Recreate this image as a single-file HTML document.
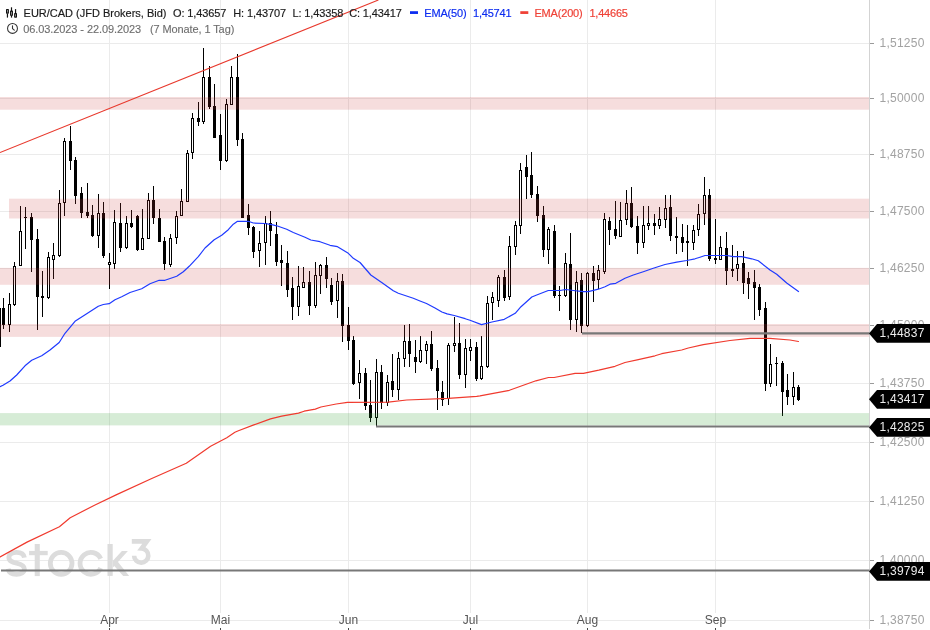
<!DOCTYPE html>
<html><head><meta charset="utf-8"><title>EUR/CAD</title>
<style>html,body{margin:0;padding:0;background:#fff;}body{width:930px;height:630px;overflow:hidden;font-family:"Liberation Sans",sans-serif;}svg{display:block;will-change:transform;}text{font-family:"Liberation Sans",sans-serif;}</style>
</head><body>
<svg width="930" height="630" viewBox="0 0 930 630">
<rect x="0" y="0" width="930" height="630" fill="#ffffff"/>
<g shape-rendering="crispEdges">
<rect x="0" y="43" width="869" height="1" fill="#ebebeb"/>
<rect x="0" y="98" width="869" height="1" fill="#ebebeb"/>
<rect x="0" y="154" width="869" height="1" fill="#ebebeb"/>
<rect x="0" y="211" width="869" height="1" fill="#ebebeb"/>
<rect x="0" y="268" width="869" height="1" fill="#ebebeb"/>
<rect x="0" y="325" width="869" height="1" fill="#ebebeb"/>
<rect x="0" y="383" width="869" height="1" fill="#ebebeb"/>
<rect x="0" y="442" width="869" height="1" fill="#ebebeb"/>
<rect x="0" y="501" width="869" height="1" fill="#ebebeb"/>
<rect x="0" y="560" width="869" height="1" fill="#ebebeb"/>
<rect x="0" y="620" width="869" height="1" fill="#ebebeb"/>
<rect x="109" y="0" width="1" height="613" fill="#ebebeb"/>
<rect x="220" y="0" width="1" height="613" fill="#ebebeb"/>
<rect x="348" y="0" width="1" height="613" fill="#ebebeb"/>
<rect x="470" y="0" width="1" height="613" fill="#ebebeb"/>
<rect x="587" y="0" width="1" height="613" fill="#ebebeb"/>
<rect x="715" y="0" width="1" height="613" fill="#ebebeb"/>
</g>
<g fill="none" stroke="#dcdcdc" stroke-width="4.8">
<path d="M24.4 557.6 C23.8 554 20.8 552.4 16.5 552.4 C11.8 552.4 8.9 554.3 8.9 557.5 C8.9 561 12 562.1 16.6 563.2 C21.6 564.4 24.4 565.8 24.4 569.1 C24.4 572.6 21 574.3 16.5 574.3 C11.8 574.3 8.8 572.5 8.1 568.8"/>
<ellipse cx="61.15" cy="563.35" rx="10.85" ry="10.95"/>
<path d="M100.7 558.7 A10.85 10.95 0 1 0 100.7 568"/>
<path d="M131.8 541.4 H146.9 L141.6 548.5 A7.1 7.1 0 1 1 134.1 555.7" stroke-width="4.6" stroke-linejoin="miter" stroke-miterlimit="10"/>
</g>
<g fill="#dcdcdc">
<rect x="34.7" y="544" width="5.1" height="32.1"/><rect x="29.1" y="550.9" width="18.6" height="4.3"/>
<rect x="107.5" y="544" width="5.2" height="31.9"/>
<polygon points="112.7,560.9 121.9,550.9 127.9,550.9 112.7,567.8"/>
<polygon points="113.6,565.2 117.4,561.2 129.2,575.9 123.2,575.9"/>
</g>
<g shape-rendering="crispEdges" fill="#000">
<rect x="0" y="308" width="1" height="39"/>
<rect x="3" y="298" width="1" height="31"/>
<rect x="2" y="308" width="3" height="17"/>
<rect x="9" y="293" width="1" height="39"/>
<rect x="8" y="304" width="3" height="21"/>
<rect x="9" y="305" width="1" height="19" fill="#fff"/>
<rect x="14" y="262" width="1" height="44"/>
<rect x="13" y="266" width="3" height="39"/>
<rect x="14" y="267" width="1" height="37" fill="#fff"/>
<rect x="20" y="206" width="1" height="60"/>
<rect x="19" y="231" width="3" height="35"/>
<rect x="20" y="232" width="1" height="33" fill="#fff"/>
<rect x="25" y="207" width="1" height="42"/>
<rect x="24" y="217" width="3" height="1"/>
<rect x="31" y="213" width="1" height="59"/>
<rect x="30" y="217" width="3" height="23"/>
<rect x="37" y="229" width="1" height="101"/>
<rect x="36" y="239" width="3" height="58"/>
<rect x="42" y="271" width="1" height="46"/>
<rect x="41" y="296" width="3" height="2"/>
<rect x="48" y="252" width="1" height="47"/>
<rect x="47" y="257" width="3" height="41"/>
<rect x="48" y="258" width="1" height="39" fill="#fff"/>
<rect x="53" y="243" width="1" height="36"/>
<rect x="52" y="255" width="3" height="5"/>
<rect x="53" y="256" width="1" height="3" fill="#fff"/>
<rect x="59" y="190" width="1" height="67"/>
<rect x="58" y="203" width="3" height="53"/>
<rect x="59" y="204" width="1" height="51" fill="#fff"/>
<rect x="64" y="138" width="1" height="78"/>
<rect x="63" y="141" width="3" height="62"/>
<rect x="64" y="142" width="1" height="60" fill="#fff"/>
<rect x="70" y="126" width="1" height="44"/>
<rect x="69" y="141" width="3" height="20"/>
<rect x="75" y="157" width="1" height="47"/>
<rect x="74" y="160" width="3" height="36"/>
<rect x="81" y="187" width="1" height="31"/>
<rect x="80" y="193" width="3" height="20"/>
<rect x="87" y="183" width="1" height="35"/>
<rect x="86" y="212" width="3" height="4"/>
<rect x="92" y="205" width="1" height="32"/>
<rect x="91" y="215" width="3" height="21"/>
<rect x="98" y="194" width="1" height="54"/>
<rect x="97" y="213" width="3" height="23"/>
<rect x="98" y="214" width="1" height="21" fill="#fff"/>
<rect x="103" y="202" width="1" height="56"/>
<rect x="102" y="213" width="3" height="43"/>
<rect x="109" y="253" width="1" height="36"/>
<rect x="108" y="262" width="3" height="3"/>
<rect x="109" y="263" width="1" height="1" fill="#fff"/>
<rect x="114" y="210" width="1" height="59"/>
<rect x="113" y="222" width="3" height="42"/>
<rect x="114" y="223" width="1" height="40" fill="#fff"/>
<rect x="120" y="203" width="1" height="49"/>
<rect x="119" y="223" width="3" height="25"/>
<rect x="126" y="216" width="1" height="33"/>
<rect x="125" y="223" width="3" height="25"/>
<rect x="126" y="224" width="1" height="23" fill="#fff"/>
<rect x="131" y="210" width="1" height="18"/>
<rect x="130" y="223" width="3" height="4"/>
<rect x="137" y="215" width="1" height="36"/>
<rect x="136" y="216" width="3" height="34"/>
<rect x="142" y="209" width="1" height="41"/>
<rect x="141" y="238" width="3" height="12"/>
<rect x="142" y="239" width="1" height="10" fill="#fff"/>
<rect x="148" y="193" width="1" height="46"/>
<rect x="147" y="200" width="3" height="39"/>
<rect x="148" y="201" width="1" height="37" fill="#fff"/>
<rect x="153" y="186" width="1" height="38"/>
<rect x="152" y="200" width="3" height="18"/>
<rect x="159" y="209" width="1" height="33"/>
<rect x="158" y="218" width="3" height="24"/>
<rect x="164" y="237" width="1" height="33"/>
<rect x="163" y="241" width="3" height="23"/>
<rect x="170" y="234" width="1" height="33"/>
<rect x="169" y="238" width="3" height="27"/>
<rect x="170" y="239" width="1" height="25" fill="#fff"/>
<rect x="176" y="211" width="1" height="33"/>
<rect x="175" y="216" width="3" height="22"/>
<rect x="176" y="217" width="1" height="20" fill="#fff"/>
<rect x="181" y="189" width="1" height="27"/>
<rect x="180" y="201" width="3" height="15"/>
<rect x="181" y="202" width="1" height="13" fill="#fff"/>
<rect x="187" y="150" width="1" height="52"/>
<rect x="186" y="153" width="3" height="49"/>
<rect x="187" y="154" width="1" height="47" fill="#fff"/>
<rect x="192" y="113" width="1" height="46"/>
<rect x="191" y="118" width="3" height="35"/>
<rect x="192" y="119" width="1" height="33" fill="#fff"/>
<rect x="198" y="102" width="1" height="24"/>
<rect x="197" y="118" width="3" height="4"/>
<rect x="203" y="48" width="1" height="76"/>
<rect x="202" y="77" width="3" height="45"/>
<rect x="203" y="78" width="1" height="43" fill="#fff"/>
<rect x="209" y="66" width="1" height="43"/>
<rect x="208" y="77" width="3" height="30"/>
<rect x="214" y="84" width="1" height="54"/>
<rect x="213" y="106" width="3" height="32"/>
<rect x="220" y="114" width="1" height="56"/>
<rect x="219" y="135" width="3" height="26"/>
<rect x="226" y="99" width="1" height="63"/>
<rect x="225" y="104" width="3" height="57"/>
<rect x="226" y="105" width="1" height="55" fill="#fff"/>
<rect x="231" y="66" width="1" height="39"/>
<rect x="230" y="77" width="3" height="28"/>
<rect x="231" y="78" width="1" height="26" fill="#fff"/>
<rect x="237" y="54" width="1" height="92"/>
<rect x="236" y="77" width="3" height="63"/>
<rect x="242" y="133" width="1" height="85"/>
<rect x="241" y="139" width="3" height="79"/>
<rect x="248" y="204" width="1" height="31"/>
<rect x="247" y="215" width="3" height="13"/>
<rect x="253" y="226" width="1" height="32"/>
<rect x="252" y="227" width="3" height="25"/>
<rect x="259" y="231" width="1" height="36"/>
<rect x="258" y="243" width="3" height="8"/>
<rect x="259" y="244" width="1" height="6" fill="#fff"/>
<rect x="265" y="216" width="1" height="49"/>
<rect x="264" y="223" width="3" height="20"/>
<rect x="265" y="224" width="1" height="18" fill="#fff"/>
<rect x="270" y="211" width="1" height="35"/>
<rect x="269" y="223" width="3" height="8"/>
<rect x="276" y="222" width="1" height="44"/>
<rect x="275" y="234" width="3" height="28"/>
<rect x="281" y="245" width="1" height="41"/>
<rect x="280" y="260" width="3" height="3"/>
<rect x="287" y="251" width="1" height="46"/>
<rect x="286" y="263" width="3" height="27"/>
<rect x="292" y="277" width="1" height="43"/>
<rect x="291" y="288" width="3" height="19"/>
<rect x="298" y="266" width="1" height="50"/>
<rect x="297" y="286" width="3" height="21"/>
<rect x="298" y="287" width="1" height="19" fill="#fff"/>
<rect x="303" y="267" width="1" height="21"/>
<rect x="302" y="282" width="3" height="6"/>
<rect x="303" y="283" width="1" height="4" fill="#fff"/>
<rect x="309" y="271" width="1" height="44"/>
<rect x="308" y="282" width="3" height="24"/>
<rect x="315" y="262" width="1" height="46"/>
<rect x="314" y="275" width="3" height="31"/>
<rect x="315" y="276" width="1" height="29" fill="#fff"/>
<rect x="320" y="264" width="1" height="30"/>
<rect x="319" y="265" width="3" height="11"/>
<rect x="320" y="266" width="1" height="9" fill="#fff"/>
<rect x="326" y="257" width="1" height="31"/>
<rect x="325" y="265" width="3" height="14"/>
<rect x="331" y="278" width="1" height="27"/>
<rect x="330" y="285" width="3" height="17"/>
<rect x="337" y="273" width="1" height="45"/>
<rect x="336" y="281" width="3" height="20"/>
<rect x="337" y="282" width="1" height="18" fill="#fff"/>
<rect x="342" y="274" width="1" height="68"/>
<rect x="341" y="281" width="3" height="45"/>
<rect x="348" y="307" width="1" height="43"/>
<rect x="347" y="325" width="3" height="16"/>
<rect x="353" y="336" width="1" height="49"/>
<rect x="352" y="340" width="3" height="44"/>
<rect x="359" y="360" width="1" height="39"/>
<rect x="358" y="373" width="3" height="10"/>
<rect x="359" y="374" width="1" height="8" fill="#fff"/>
<rect x="365" y="368" width="1" height="42"/>
<rect x="364" y="373" width="3" height="33"/>
<rect x="370" y="380" width="1" height="42"/>
<rect x="369" y="405" width="3" height="13"/>
<rect x="376" y="359" width="1" height="67"/>
<rect x="375" y="372" width="3" height="46"/>
<rect x="376" y="373" width="1" height="44" fill="#fff"/>
<rect x="381" y="365" width="1" height="44"/>
<rect x="380" y="372" width="3" height="31"/>
<rect x="387" y="375" width="1" height="31"/>
<rect x="386" y="382" width="3" height="21"/>
<rect x="387" y="383" width="1" height="19" fill="#fff"/>
<rect x="392" y="354" width="1" height="43"/>
<rect x="391" y="381" width="3" height="9"/>
<rect x="398" y="352" width="1" height="48"/>
<rect x="397" y="358" width="3" height="32"/>
<rect x="398" y="359" width="1" height="30" fill="#fff"/>
<rect x="404" y="325" width="1" height="42"/>
<rect x="403" y="341" width="3" height="18"/>
<rect x="404" y="342" width="1" height="16" fill="#fff"/>
<rect x="409" y="324" width="1" height="43"/>
<rect x="408" y="341" width="3" height="13"/>
<rect x="415" y="340" width="1" height="33"/>
<rect x="414" y="357" width="3" height="5"/>
<rect x="420" y="336" width="1" height="27"/>
<rect x="419" y="350" width="3" height="12"/>
<rect x="420" y="351" width="1" height="10" fill="#fff"/>
<rect x="426" y="341" width="1" height="23"/>
<rect x="425" y="344" width="3" height="7"/>
<rect x="426" y="345" width="1" height="5" fill="#fff"/>
<rect x="431" y="331" width="1" height="40"/>
<rect x="430" y="344" width="3" height="25"/>
<rect x="437" y="360" width="1" height="50"/>
<rect x="436" y="368" width="3" height="23"/>
<rect x="442" y="381" width="1" height="25"/>
<rect x="441" y="392" width="3" height="8"/>
<rect x="448" y="343" width="1" height="62"/>
<rect x="447" y="345" width="3" height="54"/>
<rect x="448" y="346" width="1" height="52" fill="#fff"/>
<rect x="454" y="317" width="1" height="35"/>
<rect x="453" y="343" width="3" height="3"/>
<rect x="454" y="344" width="1" height="1" fill="#fff"/>
<rect x="459" y="323" width="1" height="56"/>
<rect x="458" y="343" width="3" height="32"/>
<rect x="465" y="339" width="1" height="49"/>
<rect x="464" y="348" width="3" height="27"/>
<rect x="465" y="349" width="1" height="25" fill="#fff"/>
<rect x="470" y="339" width="1" height="22"/>
<rect x="469" y="347" width="3" height="4"/>
<rect x="470" y="348" width="1" height="2" fill="#fff"/>
<rect x="476" y="342" width="1" height="39"/>
<rect x="475" y="347" width="3" height="32"/>
<rect x="481" y="336" width="1" height="44"/>
<rect x="480" y="366" width="3" height="13"/>
<rect x="481" y="367" width="1" height="11" fill="#fff"/>
<rect x="487" y="296" width="1" height="72"/>
<rect x="486" y="303" width="3" height="64"/>
<rect x="487" y="304" width="1" height="62" fill="#fff"/>
<rect x="492" y="292" width="1" height="28"/>
<rect x="491" y="297" width="3" height="6"/>
<rect x="492" y="298" width="1" height="4" fill="#fff"/>
<rect x="498" y="275" width="1" height="32"/>
<rect x="497" y="277" width="3" height="24"/>
<rect x="498" y="278" width="1" height="22" fill="#fff"/>
<rect x="504" y="270" width="1" height="31"/>
<rect x="503" y="277" width="3" height="21"/>
<rect x="509" y="236" width="1" height="64"/>
<rect x="508" y="246" width="3" height="51"/>
<rect x="509" y="247" width="1" height="49" fill="#fff"/>
<rect x="515" y="221" width="1" height="34"/>
<rect x="514" y="225" width="3" height="22"/>
<rect x="515" y="226" width="1" height="20" fill="#fff"/>
<rect x="520" y="163" width="1" height="71"/>
<rect x="519" y="170" width="3" height="56"/>
<rect x="520" y="171" width="1" height="54" fill="#fff"/>
<rect x="526" y="155" width="1" height="44"/>
<rect x="525" y="167" width="3" height="10"/>
<rect x="531" y="152" width="1" height="46"/>
<rect x="530" y="175" width="3" height="20"/>
<rect x="537" y="186" width="1" height="36"/>
<rect x="536" y="194" width="3" height="22"/>
<rect x="543" y="206" width="1" height="51"/>
<rect x="542" y="215" width="3" height="35"/>
<rect x="548" y="227" width="1" height="37"/>
<rect x="547" y="229" width="3" height="21"/>
<rect x="548" y="230" width="1" height="19" fill="#fff"/>
<rect x="554" y="225" width="1" height="73"/>
<rect x="553" y="231" width="3" height="65"/>
<rect x="559" y="286" width="1" height="25"/>
<rect x="558" y="295" width="3" height="1"/>
<rect x="565" y="253" width="1" height="44"/>
<rect x="564" y="263" width="3" height="33"/>
<rect x="565" y="264" width="1" height="31" fill="#fff"/>
<rect x="570" y="233" width="1" height="97"/>
<rect x="569" y="264" width="3" height="56"/>
<rect x="576" y="271" width="1" height="61"/>
<rect x="575" y="282" width="3" height="38"/>
<rect x="576" y="283" width="1" height="36" fill="#fff"/>
<rect x="581" y="273" width="1" height="60"/>
<rect x="580" y="280" width="3" height="46"/>
<rect x="587" y="272" width="1" height="55"/>
<rect x="586" y="273" width="3" height="53"/>
<rect x="587" y="274" width="1" height="51" fill="#fff"/>
<rect x="593" y="266" width="1" height="36"/>
<rect x="592" y="273" width="3" height="8"/>
<rect x="598" y="265" width="1" height="24"/>
<rect x="597" y="270" width="3" height="10"/>
<rect x="598" y="271" width="1" height="8" fill="#fff"/>
<rect x="604" y="213" width="1" height="61"/>
<rect x="603" y="219" width="3" height="53"/>
<rect x="604" y="220" width="1" height="51" fill="#fff"/>
<rect x="609" y="217" width="1" height="28"/>
<rect x="608" y="221" width="3" height="9"/>
<rect x="615" y="201" width="1" height="38"/>
<rect x="614" y="229" width="3" height="7"/>
<rect x="620" y="202" width="1" height="35"/>
<rect x="619" y="220" width="3" height="17"/>
<rect x="620" y="221" width="1" height="15" fill="#fff"/>
<rect x="626" y="190" width="1" height="35"/>
<rect x="625" y="203" width="3" height="17"/>
<rect x="626" y="204" width="1" height="15" fill="#fff"/>
<rect x="631" y="187" width="1" height="41"/>
<rect x="630" y="203" width="3" height="24"/>
<rect x="637" y="216" width="1" height="38"/>
<rect x="636" y="226" width="3" height="17"/>
<rect x="643" y="206" width="1" height="42"/>
<rect x="642" y="225" width="3" height="18"/>
<rect x="643" y="226" width="1" height="16" fill="#fff"/>
<rect x="648" y="206" width="1" height="24"/>
<rect x="647" y="223" width="3" height="3"/>
<rect x="648" y="224" width="1" height="1" fill="#fff"/>
<rect x="654" y="214" width="1" height="21"/>
<rect x="653" y="223" width="3" height="3"/>
<rect x="659" y="207" width="1" height="22"/>
<rect x="658" y="219" width="3" height="7"/>
<rect x="659" y="220" width="1" height="5" fill="#fff"/>
<rect x="665" y="195" width="1" height="33"/>
<rect x="664" y="208" width="3" height="12"/>
<rect x="665" y="209" width="1" height="10" fill="#fff"/>
<rect x="670" y="195" width="1" height="46"/>
<rect x="669" y="207" width="3" height="29"/>
<rect x="676" y="217" width="1" height="37"/>
<rect x="675" y="236" width="3" height="2"/>
<rect x="682" y="224" width="1" height="28"/>
<rect x="681" y="237" width="3" height="6"/>
<rect x="687" y="225" width="1" height="41"/>
<rect x="686" y="241" width="3" height="2"/>
<rect x="693" y="225" width="1" height="25"/>
<rect x="692" y="230" width="3" height="13"/>
<rect x="693" y="231" width="1" height="11" fill="#fff"/>
<rect x="698" y="204" width="1" height="32"/>
<rect x="697" y="214" width="3" height="16"/>
<rect x="698" y="215" width="1" height="14" fill="#fff"/>
<rect x="704" y="177" width="1" height="48"/>
<rect x="703" y="195" width="3" height="19"/>
<rect x="704" y="196" width="1" height="17" fill="#fff"/>
<rect x="709" y="189" width="1" height="72"/>
<rect x="708" y="195" width="3" height="64"/>
<rect x="715" y="219" width="1" height="45"/>
<rect x="714" y="258" width="3" height="2"/>
<rect x="720" y="236" width="1" height="24"/>
<rect x="719" y="247" width="3" height="13"/>
<rect x="720" y="248" width="1" height="11" fill="#fff"/>
<rect x="726" y="232" width="1" height="53"/>
<rect x="725" y="248" width="3" height="23"/>
<rect x="732" y="245" width="1" height="32"/>
<rect x="731" y="269" width="3" height="2"/>
<rect x="737" y="251" width="1" height="30"/>
<rect x="736" y="264" width="3" height="5"/>
<rect x="737" y="265" width="1" height="3" fill="#fff"/>
<rect x="743" y="251" width="1" height="43"/>
<rect x="742" y="263" width="3" height="20"/>
<rect x="748" y="272" width="1" height="27"/>
<rect x="747" y="278" width="3" height="6"/>
<rect x="754" y="270" width="1" height="50"/>
<rect x="753" y="282" width="3" height="6"/>
<rect x="759" y="284" width="1" height="32"/>
<rect x="758" y="287" width="3" height="23"/>
<rect x="765" y="302" width="1" height="89"/>
<rect x="764" y="308" width="3" height="76"/>
<rect x="770" y="344" width="1" height="43"/>
<rect x="769" y="364" width="3" height="20"/>
<rect x="770" y="365" width="1" height="18" fill="#fff"/>
<rect x="776" y="357" width="1" height="29"/>
<rect x="775" y="363" width="3" height="1"/>
<rect x="782" y="361" width="1" height="55"/>
<rect x="781" y="363" width="3" height="29"/>
<rect x="787" y="374" width="1" height="31"/>
<rect x="786" y="390" width="3" height="7"/>
<rect x="793" y="372" width="1" height="33"/>
<rect x="792" y="387" width="3" height="10"/>
<rect x="793" y="388" width="1" height="8" fill="#fff"/>
<rect x="798" y="385" width="1" height="16"/>
<rect x="797" y="387" width="3" height="13"/>
</g>
<g shape-rendering="crispEdges">
<rect x="0" y="97.0" width="869.5" height="12.7" fill="rgba(204,51,51,0.17)" shape-rendering="auto"/>
<rect x="9" y="198.7" width="860.5" height="19.8" fill="rgba(204,51,51,0.17)" shape-rendering="auto"/>
<rect x="0" y="267.9" width="869.5" height="16.9" fill="rgba(204,51,51,0.17)" shape-rendering="auto"/>
<rect x="0" y="324.0" width="869.5" height="12.9" fill="rgba(204,51,51,0.17)" shape-rendering="auto"/>
<rect x="0" y="413.1" width="869.5" height="12.3" fill="rgba(50,160,50,0.2)" shape-rendering="auto"/>
</g>
<rect x="869" y="0" width="1" height="629" fill="#d3d3d3" shape-rendering="crispEdges"/>
<line x1="0" y1="152.5" x2="378.4" y2="0" stroke="#e8392d" stroke-width="1.1"/>
<line x1="582" y1="333.4" x2="869.5" y2="333.4" stroke="#787878" stroke-width="2.1"/>
<line x1="376" y1="426.5" x2="869.5" y2="426.5" stroke="#787878" stroke-width="2.1"/>
<line x1="1" y1="570.5" x2="869.5" y2="570.5" stroke="#787878" stroke-width="2.1"/>
<polyline points="0.0,557.0 27.0,542.1 59.4,526.7 70.2,517.8 94.5,505.2 116.1,494.9 151.2,478.7 186.3,463.3 210.6,446.3 226.8,437.7 234.9,432.3 238.4,430.8 253.8,424.9 270.5,418.9 281.7,416.1 298.5,413.1 304.1,411.2 315.3,409.1 320.9,407.0 336.2,404.0 347.4,402.4 388.3,402.2 406.7,400.0 448.3,398.3 476.7,396.3 480.0,395.9 509.4,390.3 535.9,380.8 548.5,377.5 554.1,377.5 575.1,373.3 583.4,373.3 598.8,370.1 615.0,366.3 625.0,362.5 638.3,359.7 655.0,355.8 661.7,353.7 681.7,350.0 688.3,348.0 703.3,344.7 730.0,340.5 750.0,338.3 770.0,338.3 790.0,340.0 798.5,341.5" fill="none" stroke="#f03a2e" stroke-width="1.2" stroke-linejoin="round" stroke-linecap="round"/>
<polyline points="0.0,386.7 3.0,385.3 10.0,381.0 16.7,375.0 25.0,365.8 31.7,360.3 41.7,355.8 50.0,350.0 59.2,342.5 65.0,333.3 75.0,321.3 86.7,313.8 98.3,306.3 103.3,304.5 109.2,303.7 115.0,299.7 121.7,296.7 130.0,292.5 141.7,288.7 150.0,283.7 159.2,280.3 165.0,280.3 176.7,276.3 183.3,271.7 189.2,266.3 198.3,256.7 205.0,248.0 214.2,239.7 221.7,235.3 228.3,229.7 233.3,224.2 237.5,221.3 248.3,221.3 253.3,223.0 265.0,223.5 271.7,224.7 276.7,225.8 286.7,229.2 293.3,232.5 305.0,237.2 310.8,240.0 320.0,241.7 330.0,245.3 337.5,246.7 348.3,253.3 353.3,258.3 360.0,262.5 370.8,275.0 381.7,282.5 393.3,290.8 398.3,293.3 413.3,298.3 420.0,301.0 426.5,303.5 435.0,308.0 441.9,312.0 447.1,313.9 454.2,315.5 465.2,318.7 470.0,320.3 481.5,324.6 492.0,322.0 504.3,319.3 515.2,313.3 521.0,306.7 531.8,297.0 536.7,295.0 548.3,290.5 560.0,290.5 565.8,289.5 573.3,290.5 583.3,291.7 588.3,291.7 598.3,289.2 605.0,286.7 610.0,284.2 615.8,283.3 625.0,278.3 633.3,275.0 643.3,271.7 653.3,268.3 665.0,264.5 676.7,262.2 686.7,260.5 695.0,258.8 700.0,257.2 705.0,255.5 726.7,255.5 733.3,256.7 741.7,256.7 751.7,258.8 758.3,260.8 770.0,270.0 776.7,274.2 786.7,283.0 798.5,291.5" fill="none" stroke="#1f3aff" stroke-width="1.2" stroke-linejoin="round" stroke-linecap="round"/>
<g font-size="12" fill="#a2a2a2" letter-spacing="0.25">
<rect x="870" y="43" width="4" height="1" fill="#9a9a9a" shape-rendering="crispEdges"/>
<text x="879.5" y="47.3">1,51250</text>
<rect x="870" y="98" width="4" height="1" fill="#9a9a9a" shape-rendering="crispEdges"/>
<text x="879.5" y="102.3">1,50000</text>
<rect x="870" y="154" width="4" height="1" fill="#9a9a9a" shape-rendering="crispEdges"/>
<text x="879.5" y="158.3">1,48750</text>
<rect x="870" y="211" width="4" height="1" fill="#9a9a9a" shape-rendering="crispEdges"/>
<text x="879.5" y="215.3">1,47500</text>
<rect x="870" y="268" width="4" height="1" fill="#9a9a9a" shape-rendering="crispEdges"/>
<text x="879.5" y="272.3">1,46250</text>
<rect x="870" y="325" width="4" height="1" fill="#9a9a9a" shape-rendering="crispEdges"/>
<text x="879.5" y="329.3">1,45000</text>
<rect x="870" y="383" width="4" height="1" fill="#9a9a9a" shape-rendering="crispEdges"/>
<text x="879.5" y="387.3">1,43750</text>
<rect x="870" y="442" width="4" height="1" fill="#9a9a9a" shape-rendering="crispEdges"/>
<text x="879.5" y="446.3">1,42500</text>
<rect x="870" y="501" width="4" height="1" fill="#9a9a9a" shape-rendering="crispEdges"/>
<text x="879.5" y="505.3">1,41250</text>
<rect x="870" y="560" width="4" height="1" fill="#9a9a9a" shape-rendering="crispEdges"/>
<text x="879.5" y="564.3">1,40000</text>
<rect x="870" y="620" width="4" height="1" fill="#9a9a9a" shape-rendering="crispEdges"/>
<text x="879.5" y="624.3">1,38750</text>
</g>
<path d="M869 333.4 L877 324.0 H930 V342.79999999999995 H877 Z" fill="#000"/>
<text x="879.5" y="337.29999999999995" font-size="12" fill="#ececec" letter-spacing="0.25">1,44837</text>
<path d="M869 399.3 L877 389.90000000000003 H930 V408.7 H877 Z" fill="#000"/>
<text x="879.5" y="403.2" font-size="12" fill="#ececec" letter-spacing="0.25">1,43417</text>
<path d="M869 427.4 L877 418.0 H930 V436.79999999999995 H877 Z" fill="#000"/>
<text x="879.5" y="431.29999999999995" font-size="12" fill="#ececec" letter-spacing="0.25">1,42825</text>
<path d="M869 571.4 L877 562.0 H930 V580.8 H877 Z" fill="#000"/>
<text x="879.5" y="575.3" font-size="12" fill="#ececec" letter-spacing="0.25">1,39794</text>
<g font-size="12" fill="#555" text-anchor="middle">
<rect x="109" y="628" width="1" height="2" fill="#444" shape-rendering="crispEdges"/>
<text x="109.5" y="624.3">Apr</text>
<rect x="220" y="628" width="1" height="2" fill="#444" shape-rendering="crispEdges"/>
<text x="220.5" y="624.3">Mai</text>
<rect x="348" y="628" width="1" height="2" fill="#444" shape-rendering="crispEdges"/>
<text x="348.5" y="624.3">Jun</text>
<rect x="470" y="628" width="1" height="2" fill="#444" shape-rendering="crispEdges"/>
<text x="470.5" y="624.3">Jul</text>
<rect x="587" y="628" width="1" height="2" fill="#444" shape-rendering="crispEdges"/>
<text x="587.5" y="624.3">Aug</text>
<rect x="715" y="628" width="1" height="2" fill="#444" shape-rendering="crispEdges"/>
<text x="715.5" y="624.3">Sep</text>
</g>
<g font-size="11" fill="#1c1c1c">
<g stroke="#101010" stroke-width="1.2" fill="#fff">
<line x1="7.45" y1="13.6" x2="7.45" y2="17.6"/><rect x="6.6" y="9.5" width="1.7" height="3.6" rx="0.1"/>
<line x1="11.5" y1="7.3" x2="11.5" y2="17.6"/><rect x="10.65" y="11.15" width="1.7" height="4.1" rx="0.1"/>
<line x1="15.55" y1="9.1" x2="15.55" y2="13.2"/><rect x="14.7" y="13.55" width="1.7" height="3.5" rx="0.1"/>
</g>
<g transform="translate(0,16.7) scale(1,1.055) translate(0,-16.7)" stroke-width="0.18">
<text x="23.6" y="16.7" stroke="#1c1c1c">EUR/CAD (JFD Brokers, Bid)</text>
<text x="173" y="16.7" letter-spacing="-0.12" stroke="#1c1c1c">O: 1,43657</text>
<text x="233.3" y="16.7" letter-spacing="-0.12" stroke="#1c1c1c">H: 1,43707</text>
<text x="292.5" y="16.7" letter-spacing="-0.12" stroke="#1c1c1c">L: 1,43358</text>
<text x="349.2" y="16.7" letter-spacing="-0.12" stroke="#1c1c1c">C: 1,43417</text>
<rect x="410" y="11.5" width="8" height="2.6" fill="#0c2cf0"/>
<text x="424.3" y="16.7" fill="#0c2cf0" stroke="#0c2cf0" letter-spacing="-0.17">EMA(50)</text>
<text x="473" y="16.7" fill="#0c2cf0" stroke="#0c2cf0" letter-spacing="-0.2">1,45741</text>
<rect x="520.3" y="11.5" width="8" height="2.6" fill="#ef4136"/>
<text x="534.4" y="16.7" fill="#ef4136" stroke="#ef4136" letter-spacing="-0.17">EMA(200)</text>
<text x="589.4" y="16.7" fill="#ef4136" stroke="#ef4136" letter-spacing="-0.2">1,44665</text>
</g>
<circle cx="12.5" cy="28.4" r="4.95" fill="none" stroke="#333" stroke-width="1.05"/>
<path d="M12.5 25.7 V28.6 L14.3 30.1" fill="none" stroke="#333" stroke-width="1.1" stroke-linecap="round" stroke-linejoin="round"/>
<g transform="translate(0,32.85) scale(1,1.05) translate(0,-32.85)" stroke="#6e6e6e" stroke-width="0.12">
<text x="23.2" y="32.85" fill="#6e6e6e" letter-spacing="-0.08">06.03.2023 - 22.09.2023</text>
<text x="150" y="32.85" fill="#6e6e6e" letter-spacing="-0.1">(7 Monate, 1 Tag)</text>
</g>
</g>
</svg></body></html>
